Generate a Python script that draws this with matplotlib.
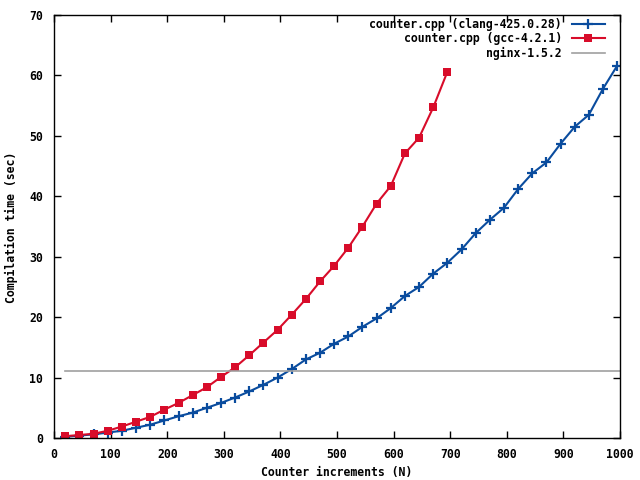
import matplotlib
matplotlib.use("Agg")
import matplotlib.pyplot as plt

n_clang = list(range(20, 1000, 25))
t_clang = [0.2, 0.4, 0.6, 0.9, 1.2, 1.7, 2.2, 2.9, 3.6, 4.2, 5.0, 5.8, 6.7, 7.7,
           8.8, 10.0, 11.4, 13.0, 14.1, 15.6, 16.8, 18.4, 19.8, 21.5, 23.5, 25.0,
           27.2, 29.0, 31.2, 33.9, 36.1, 38.1, 41.2, 43.8, 45.6, 48.7, 51.5, 53.5,
           57.8, 61.6]
n_gcc = list(range(20, 700, 25))
t_gcc = [0.3, 0.5, 0.7, 1.2, 1.9, 2.7, 3.5, 4.7, 5.8, 7.1, 8.4, 10.1, 11.7, 13.7,
         15.8, 17.9, 20.4, 23.0, 25.9, 28.5, 31.5, 35.0, 38.8, 41.7, 47.1, 49.7,
         54.7, 60.6]
n_nginx = [20, 1000]
t_nginx = [11.1, 11.1]

labels = ["counter.cpp (clang-425.0.28)", "counter.cpp (gcc-4.2.1)", "nginx-1.5.2"]

FS = 8.3
plt.rcParams["font.family"] = "DejaVu Sans Mono"
plt.rcParams["font.weight"] = "bold"
plt.rcParams["font.size"] = FS

fig = plt.figure(figsize=(6.4, 4.8), dpi=100)
ax = fig.add_axes([54/640, 1-438/480, (620-54)/640, (438-15)/480])

ax.plot(n_clang, t_clang, color="#0a4c9e", lw=1.5, marker="+", ms=7, mew=1.6,
        label=labels[0])
ax.plot(n_gcc, t_gcc, color="#d80c2a", lw=1.5, marker="s", ms=5.5, mew=0,
        label=labels[1])
ax.plot(n_nginx, t_nginx, color="#a0a0a0", lw=1.2, label=labels[2])

ax.set_xlim(0, 1000)
ax.set_ylim(0, 70)
ax.set_xticks(range(0, 1001, 100))
ax.set_yticks(range(0, 71, 10))
ax.tick_params(direction="in", top=True, right=True, length=5, width=1,
               labelsize=FS)
ax.tick_params(axis="y", pad=8)
ax.tick_params(axis="x", pad=7)
for s in ax.spines.values():
    s.set_linewidth(1)
ax.set_xlabel("Counter increments (N)", fontsize=FS, fontweight="bold")
ax.set_ylabel("Compilation time (sec)", fontsize=FS, fontweight="bold")
ax.xaxis.set_label_coords(0.5, (438 - 466) / 423)
ax.yaxis.set_label_coords((18 - 54) / 566, 0.497)

ax.legend(loc="upper right", frameon=False, markerfirst=False,
          bbox_to_anchor=((605 - 54) / 566, (438 - 18) / 423),
          borderaxespad=0, borderpad=0, handlelength=2.9, handletextpad=0.85,
          labelspacing=0.12,
          prop={"family": "DejaVu Sans Mono", "weight": "bold", "size": FS})

fig.savefig("out.png", dpi=100)
